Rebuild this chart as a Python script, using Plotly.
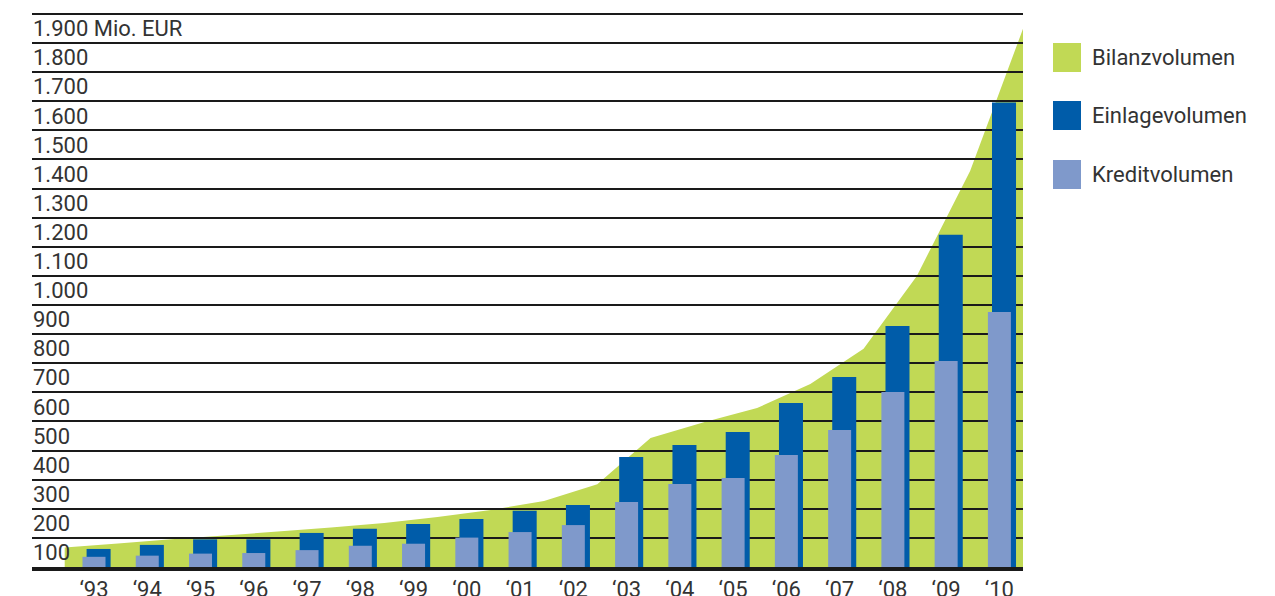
import plotly.graph_objects as go

# ---- data ----
years = ["‘93", "‘94", "‘95", "‘96", "‘97", "‘98", "‘99", "‘00", "‘01",
         "‘02", "‘03", "‘04", "‘05", "‘06", "‘07", "‘08", "‘09", "‘10"]
einlage = [62, 76, 95, 95, 117, 131, 148, 165, 193, 213, 378, 419, 464, 563,
           653, 828, 1141, 1596]
kredit = [35, 39, 46, 48, 58, 73, 80, 101, 120, 144, 223, 285, 306, 385,
          471, 601, 708, 876]
# Bilanzvolumen: start value followed by one value per year (drawn at year boundaries)
bilanz = [67, 81, 95, 108, 122, 136, 151, 172, 196, 227, 284, 443, 497, 546,
          629, 750, 1000, 1360, 1852]
y_tick_values = [100, 200, 300, 400, 500, 600, 700, 800, 900, 1000, 1100,
                 1200, 1300, 1400, 1500, 1600, 1700, 1800, 1900]
y_tick_labels = ["100", "200", "300", "400", "500", "600", "700", "800", "900",
                 "1.000", "1.100", "1.200", "1.300", "1.400", "1.500", "1.600",
                 "1.700", "1.800", "1.900 Mio. EUR"]
legend_names = ["Bilanzvolumen", "Einlagevolumen", "Kreditvolumen"]

GREEN = "#C1D955"
DARK = "#005CA9"
LIGHT = "#7F99CB"
TXT = "#333333"
FONT = "Roboto"

# page offset (body margin) and plot geometry in screen pixels
OFF = 8
YMAX = 1910
PL, PR, PB = 32, 1023, 567
PH = round(YMAX * 553 / 1900)
PT = PB - PH
PW = PR - PL

xs = list(range(len(years)))
bil_x = [i - 0.55 for i in range(len(bilanz))]

fig = go.Figure()

fig.add_trace(go.Bar(x=xs, y=einlage, name=legend_names[1], marker_color=DARK,
                     marker_line_width=0, width=0.451, offset=-0.139,
                     showlegend=False, hoverinfo="y"))
fig.add_trace(go.Bar(x=xs, y=kredit, name=legend_names[2], marker_color=LIGHT,
                     marker_line_width=0, width=0.432, offset=-0.216,
                     showlegend=False, hoverinfo="y"))
# carrier for the label axis
fig.add_trace(go.Scatter(x=[], y=[], yaxis="y2", showlegend=False,
                         hoverinfo="skip"))

# Bilanz area (drawn under the gridlines)
path = "M {},0 ".format(bil_x[0])
for x, y in zip(bil_x, bilanz):
    path += "L {},{} ".format(x, y)
path += "L {},0 Z".format(bil_x[-1])
shapes = [dict(type="path", path=path, xref="x", yref="y", fillcolor=GREEN,
               line=dict(width=0), layer="below")]

# custom legend
annotations = []
leg_colors = [GREEN, DARK, LIGHT]
leg_y = [57.5, 115.5, 174.5]
for name, col, yc in zip(legend_names, leg_colors, leg_y):
    shapes.append(dict(type="rect", xref="paper", yref="paper",
                       x0=(1053 - PL) / PW, x1=(1081 - PL) / PW,
                       y0=(PB - (yc + 14.5)) / PH, y1=(PB - (yc - 14.5)) / PH,
                       fillcolor=col, line=dict(width=0), layer="above"))
    annotations.append(dict(text=name, xref="paper", yref="paper",
                            x=(1090 - PL) / PW, y=(PB - yc) / PH,
                            xanchor="left", yanchor="middle", showarrow=False,
                            font=dict(family=FONT, size=22, color=TXT)))

fig.update_layout(
    width=1275, height=596,
    margin=dict(l=PL - OFF, r=1275 - (PR - OFF), t=PT - OFF, b=596 - (PB - OFF)),
    plot_bgcolor="white", paper_bgcolor="white",
    barmode="overlay",
    shapes=shapes, annotations=annotations,
    showlegend=False,
    font=dict(family=FONT, color=TXT),
)
fig.update_xaxes(range=[-1.164, 17.443], tickmode="array", tickvals=xs,
                 ticktext=years, showgrid=False, zeroline=False,
                 showline=True, linewidth=4, linecolor="#1a1a1a",
                 ticks="",
                 tickfont=dict(family=FONT, size=22, color=TXT),
                 automargin=False, fixedrange=True)
fig.update_layout(
    yaxis=dict(range=[0, YMAX], showticklabels=False, ticks="",
               showgrid=False, zeroline=False, showline=False,
               minor=dict(tickmode="array", tickvals=y_tick_values,
                          showgrid=True, gridcolor="#1a1a1a", gridwidth=1.6),
               automargin=False, fixedrange=True),
    yaxis2=dict(overlaying="y", side="right", anchor="free", position=0.0,
                range=[0, YMAX], tickmode="array",
                tickvals=[v - 50 for v in y_tick_values],
                ticktext=y_tick_labels, ticks="",
                tickfont=dict(family=FONT, size=22, color=TXT),
                showgrid=False, zeroline=False, showline=False,
                automargin=False, fixedrange=True),
)

fig.write_html("out.html")
